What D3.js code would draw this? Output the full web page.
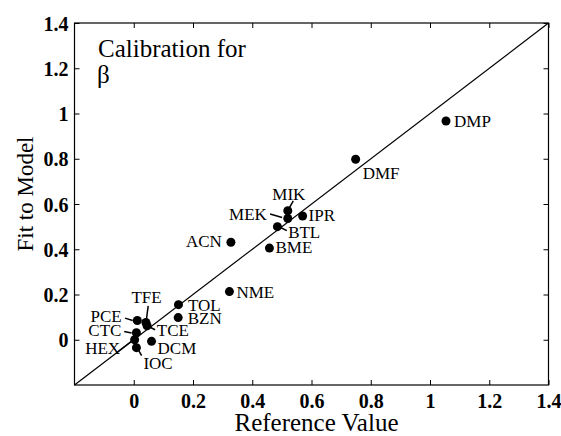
<!DOCTYPE html>
<html>
<head>
<meta charset="utf-8">
<script src="https://cdn.jsdelivr.net/npm/d3@7"></script>
<style>
  body { margin: 0; background: #fff; }
</style>
</head>
<body>
<script>
// solvent codes with reference value (x) and fitted value (y)
const names = ["DMP","DMF","MIK","MEK","IPR","BTL","ACN","BME","NME","TOL","BZN","PCE","TFE","TCE","CTC","HEX","DCM","IOC"];
const refValues = [1.054,0.749,0.520,0.520,0.570,0.485,0.328,0.458,0.323,0.151,0.150,0.012,0.041,0.045,0.009,0.003,0.060,0.009];
const fitValues = [0.967,0.798,0.570,0.536,0.547,0.500,0.431,0.405,0.213,0.155,0.098,0.085,0.076,0.062,0.031,0.000,-0.007,-0.035];
const tickValues = [0,0.2,0.4,0.6,0.8,1,1.2,1.4];

// label placement relative to each dot: [dx, dy, anchor, leader line or null]
const labelLayout = {
  DMP: [8, 6, "start", null],
  DMF: [7, 20, "start", null],
  MIK: [1, -11, "middle", [5.5, -10, 1.5, -3]],
  MEK: [-21, 1.5, "end", [-17.7, -4.5, -5.7, -1]],
  IPR: [6, 5, "start", null],
  BTL: [10.7, 11.3, "start", [9.4, 4, 2.7, 0.6]],
  ACN: [-9, 5, "end", null],
  BME: [6, 5, "start", null],
  NME: [7, 6, "start", null],
  TOL: [9.5, 6, "start", null],
  BZN: [9.5, 6, "start", null],
  PCE: [-15.6, 1.5, "end", [-12.3, -2.4, -4.6, 0]],
  TFE: [0.7, -20, "middle", [2.3, -16.7, 0.5, -3]],
  TCE: [9.7, 10, "start", [8, 4, 3, 1.5]],
  CTC: [-15, 3, "end", [-12.2, -1.3, -4.8, 0.3]],
  HEX: [-14.5, 14, "end", [-17.5, 12.7, -2.5, 1]],
  DCM: [6, 13, "start", null],
  IOC: [7, 21, "start", [5.2, 8, 1.8, 2]]
};

const serif = "'Liberation Serif', 'DejaVu Serif', serif";
const width = 561, height = 436;
const margin = {left: 74.5, right: 12.5, top: 23, bottom: 51};

const svg = d3.select("body").append("svg")
    .attr("width", width)
    .attr("height", height)
    .style("font-family", serif);

const x = d3.scaleLinear().domain([-0.2, 1.4]).range([margin.left, width - margin.right]);
const y = d3.scaleLinear().domain([-0.2, 1.4]).range([height - margin.bottom, margin.top]);

const fmt = d => String(d);

// bottom axis with labels, ticks pointing inward
const axisB = svg.append("g")
    .attr("transform", `translate(0,${y(-0.2)})`)
    .call(d3.axisBottom(x).tickValues(tickValues).tickFormat(fmt).tickSizeInner(-5).tickSizeOuter(0).tickPadding(9));

const axisL = svg.append("g")
    .attr("transform", `translate(${x(-0.2)},0)`)
    .call(d3.axisLeft(y).tickValues(tickValues).tickFormat(fmt).tickSizeInner(-5).tickSizeOuter(0).tickPadding(6));

const axisT = svg.append("g")
    .attr("transform", `translate(0,${y(1.4)})`)
    .call(d3.axisTop(x).tickValues(tickValues).tickFormat("").tickSizeInner(-5).tickSizeOuter(0));

const axisR = svg.append("g")
    .attr("transform", `translate(${x(1.4)},0)`)
    .call(d3.axisRight(y).tickValues(tickValues).tickFormat("").tickSizeInner(-5).tickSizeOuter(0));

[axisB, axisL, axisT, axisR].forEach(g => {
    g.attr("font-family", null).style("font-family", serif)
        .attr("font-size", null).style("font-size", "20px").style("font-weight", "bold");
    g.select(".domain").remove();
    g.selectAll("line").attr("stroke", "#000").attr("stroke-width", 1);
    g.selectAll("text").attr("fill", "#000");
});
axisL.selectAll("text").attr("dy", "0.35em");

// plot frame
svg.append("rect")
    .attr("x", x(-0.2))
    .attr("y", y(1.4))
    .attr("width", x(1.4) - x(-0.2))
    .attr("height", y(-0.2) - y(1.4))
    .attr("fill", "none")
    .attr("stroke", "#000")
    .attr("stroke-width", 1.2);

// identity line
svg.append("line")
    .attr("x1", x(-0.2)).attr("y1", y(-0.2))
    .attr("x2", x(1.4)).attr("y2", y(1.4))
    .attr("stroke", "#000")
    .attr("stroke-width", 1.2);

const points = names.map((n, i) => ({name: n, rx: refValues[i], fy: fitValues[i]}));

// leader lines
svg.append("g").selectAll("line")
    .data(points.filter(d => labelLayout[d.name][3]))
    .enter().append("line")
    .attr("x1", d => x(d.rx) + labelLayout[d.name][3][0])
    .attr("y1", d => y(d.fy) + labelLayout[d.name][3][1])
    .attr("x2", d => x(d.rx) + labelLayout[d.name][3][2])
    .attr("y2", d => y(d.fy) + labelLayout[d.name][3][3])
    .attr("stroke", "#000")
    .attr("stroke-width", 1.5);

svg.append("g").selectAll("circle")
    .data(points)
    .enter().append("circle")
    .attr("cx", d => x(d.rx))
    .attr("cy", d => y(d.fy))
    .attr("r", 4.5)
    .attr("fill", "#000");

svg.append("g").selectAll("text")
    .data(points)
    .enter().append("text")
    .attr("x", d => x(d.rx) + labelLayout[d.name][0])
    .attr("y", d => y(d.fy) + labelLayout[d.name][1])
    .attr("text-anchor", d => labelLayout[d.name][2])
    .style("font-size", "17px")
    .text(d => d.name);

// annotation
svg.append("text")
    .attr("x", 98).attr("y", 57)
    .style("font-size", "25px")
    .text("Calibration for");
svg.append("text")
    .attr("x", 97).attr("y", 83)
    .style("font-size", "25px")
    .text("β");

// axis titles
svg.append("text")
    .attr("x", (x(-0.2) + x(1.4)) / 2 + 5)
    .attr("y", 431)
    .attr("text-anchor", "middle")
    .style("font-size", "25px")
    .text("Reference Value");

svg.append("text")
    .attr("transform", "translate(33,194) rotate(-90)")
    .attr("text-anchor", "middle")
    .style("font-size", "23px")
    .text("Fit to Model");
</script>
</body>
</html>
